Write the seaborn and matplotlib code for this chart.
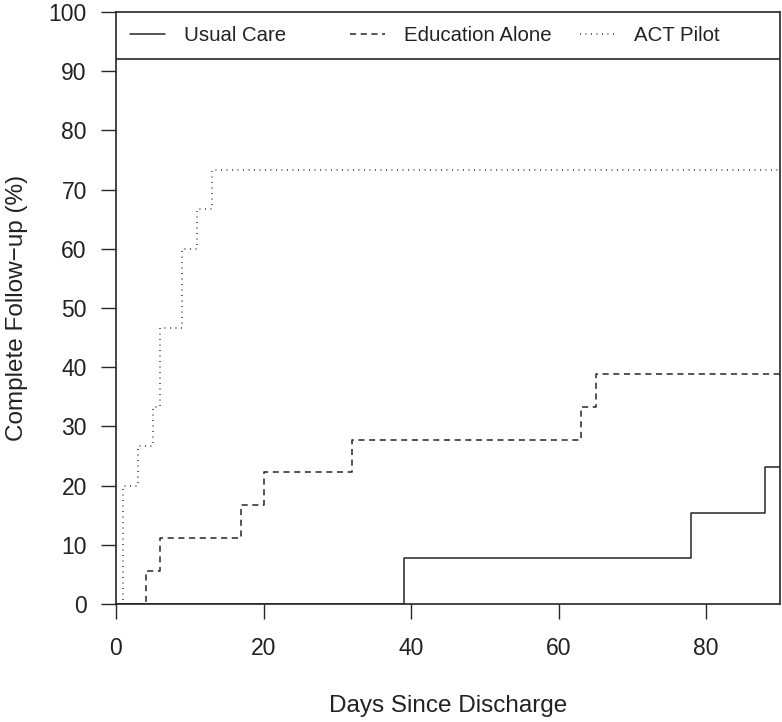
import matplotlib
matplotlib.use("Agg")
import matplotlib.pyplot as plt
import seaborn as sns
import pandas as pd

# Data (step curves: time of jump, cumulative % after jump)
usual_days = [0, 39, 78, 88, 90]
usual_pct = [0, 7.69, 15.38, 23.08, 23.08]
edu_days = [0, 4, 6, 17, 20, 32, 63, 65, 90]
edu_pct = [0, 5.56, 11.11, 16.67, 22.22, 27.78, 33.33, 38.89, 38.89]
act_days = [0, 1, 3, 5, 6, 9, 11, 13, 90]
act_pct = [0, 20.0, 26.67, 33.33, 46.67, 60.0, 66.67, 73.33, 73.33]
groups = ["Usual Care", "Education Alone", "ACT Pilot"]
x_ticks = [0, 20, 40, 60, 80]
y_ticks = list(range(0, 101, 10))

rows = []
for g, d, p in zip(groups, [usual_days, edu_days, act_days], [usual_pct, edu_pct, act_pct]):
    for di, pi in zip(d, p):
        rows.append({"Days": di, "Pct": pi, "Group": g})
df = pd.DataFrame(rows)

sns.set_theme(style="ticks")
plt.rcParams["font.family"] = ["Liberation Sans", "DejaVu Sans"]

col = "#262626"
tcol = "#222222"
fig = plt.figure(figsize=(7.82, 7.22), dpi=100)
ax = fig.add_axes([116/782, 1-604/722, (780-116)/782, (604-12)/722])

sns.lineplot(data=df, x="Days", y="Pct", hue="Group", style="Group",
             hue_order=groups, style_order=groups,
             palette={g: col for g in groups},
             dashes={"Usual Care": "", "Education Alone": (4, 3), "ACT Pilot": (0.6, 3)},
             estimator=None, sort=False, drawstyle="steps-post",
             linewidth=1.1, ax=ax, legend=True)

ax.set_xlim(0, 90)
ax.set_ylim(0, 100)
ax.set_xticks(x_ticks)
ax.set_yticks(y_ticks)
ax.axhline(92, color=col, lw=1.2)
for s in ax.spines.values():
    s.set_color(col)
    s.set_linewidth(1.2)
ax.tick_params(axis="both", direction="out", length=11, width=1.0, color=col,
               labelsize=16.5, labelcolor=tcol)
ax.tick_params(axis="x", pad=13)
ax.tick_params(axis="y", pad=10)
ax.set_xlabel("Days Since Discharge", fontsize=17.5, color=tcol, labelpad=25)
ax.set_ylabel("Complete Follow\u2212up (%)", fontsize=17.5, color=tcol, labelpad=15)

handles, labels = ax.get_legend_handles_labels()
ax.get_legend().remove()
x_pos = [(130-116)/664, (350-116)/664, (580-116)/664]
legs = []
for h, l, xp in zip(handles, labels, x_pos):
    lg = ax.legend([h], [l], loc="center left", bbox_to_anchor=(xp, 0.96),
                   frameon=False, fontsize=14.7, handlelength=1.7,
                   handletextpad=0.95, borderaxespad=0, borderpad=0)
    for t in lg.get_texts():
        t.set_color(tcol)
    legs.append(lg)
for lg in legs[:-1]:
    ax.add_artist(lg)

fig.savefig("out.png", dpi=100)
